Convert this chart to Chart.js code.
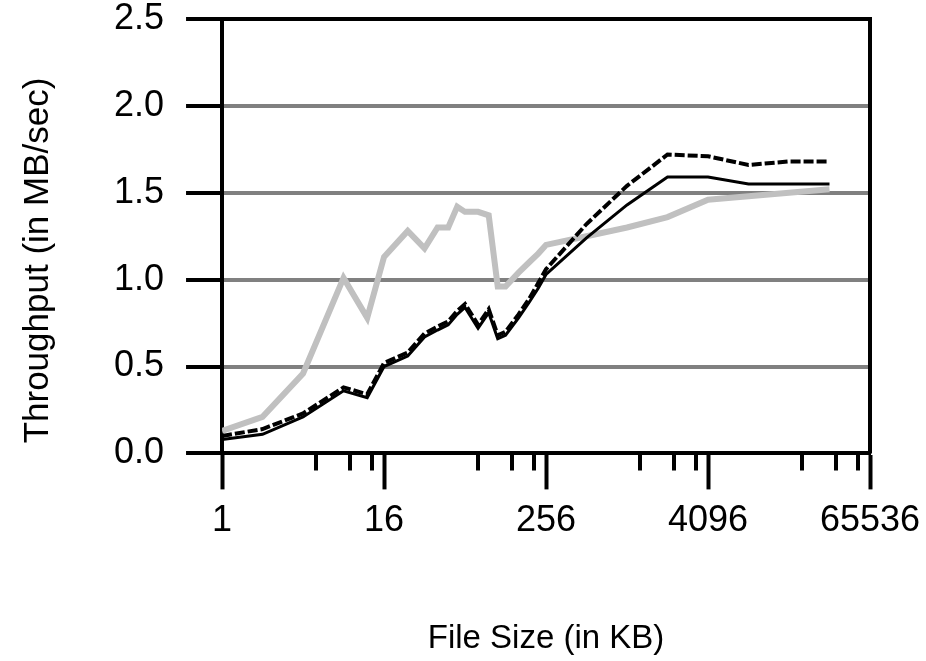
<!DOCTYPE html>
<html>
<head>
<meta charset="utf-8">
<script src="https://cdn.jsdelivr.net/npm/chart.js@4"></script>
<style>
  body { margin: 0; background: #fff; }
  #wrap { width: 926px; height: 661px; }
</style>
</head>
<body>
<div id="wrap"><canvas id="chart"></canvas></div>
<script>
const fileSizes = [1, 2, 4, 8, 12, 16, 24, 32, 40, 48, 56, 64, 80, 96, 112, 128, 160, 192, 224, 256, 512, 1024, 2048, 4096, 8192, 16384, 32768]
const graySeries = [0.13, 0.21, 0.46, 1.01, 0.78, 1.13, 1.28, 1.18, 1.30, 1.30, 1.42, 1.39, 1.39, 1.37, 0.96, 0.96, 1.04, 1.10, 1.15, 1.20, 1.25, 1.30, 1.36, 1.46, 1.48, 1.50, 1.52]
const solidSeries = [0.08, 0.11, 0.21, 0.36, 0.32, 0.50, 0.56, 0.67, 0.71, 0.74, 0.80, 0.84, 0.72, 0.81, 0.66, 0.68, 0.78, 0.87, 0.95, 1.03, 1.24, 1.43, 1.59, 1.59, 1.55, 1.55, 1.55]
const dashedSeries = [0.10, 0.14, 0.23, 0.38, 0.34, 0.52, 0.58, 0.69, 0.73, 0.76, 0.82, 0.86, 0.74, 0.83, 0.68, 0.70, 0.80, 0.89, 0.98, 1.06, 1.32, 1.54, 1.72, 1.71, 1.66, 1.68, 1.68]

const xMajorTicks = [1, 16, 256, 4096, 65536]
const xMinorTicks = [5, 9, 13, 80, 144, 208, 1280, 2304, 3328, 20480, 36864, 53248]
const yTicks = [0, 0.5, 1.0, 1.5, 2.0, 2.5]

const toPoints = (ys) => fileSizes.map((x, i) => ({ x, y: ys[i] }))

const FONT = 'Liberation Sans, Arial, sans-serif'

// minor ticks under the x axis and the right border of the plot
const framePlugin = {
  id: 'frame',
  afterDraw(chart) {
    const { ctx, chartArea } = chart
    const xs = chart.scales.x
    ctx.save()
    ctx.strokeStyle = '#000'
    ctx.lineWidth = 4
    ctx.beginPath()
    for (const v of xMinorTicks) {
      const px = Math.round(xs.getPixelForValue(v))
      ctx.moveTo(px, chartArea.bottom)
      ctx.lineTo(px, chartArea.bottom + 17)
    }
    ctx.moveTo(chartArea.right, chartArea.top - 2)
    ctx.lineTo(chartArea.right, chartArea.bottom)
    ctx.stroke()
    ctx.restore()
  }
}

new Chart(document.getElementById('chart'), {
  type: 'line',
  data: {
    datasets: [
      {
        label: 'dashed',
        data: toPoints(dashedSeries),
        borderColor: '#000',
        borderWidth: 4,
        borderDash: [10, 3],
        pointRadius: 0,
        tension: 0,
        order: 1,
      },
      {
        label: 'solid',
        data: toPoints(solidSeries),
        borderColor: '#000',
        borderWidth: 3,
        pointRadius: 0,
        tension: 0,
        order: 2,
      },
      {
        label: 'gray',
        data: toPoints(graySeries),
        borderColor: '#c0c0c0',
        borderWidth: 6,
        pointRadius: 0,
        tension: 0,
        order: 3,
      },
    ],
  },
  options: {
    responsive: true,
    maintainAspectRatio: false,
    animation: false,
    layout: { padding: { top: 19, right: 56, left: 0, bottom: 0 } },
    plugins: { legend: { display: false }, tooltip: { enabled: false } },
    scales: {
      x: {
        type: 'logarithmic',
        min: 1,
        max: 65536,
        afterBuildTicks: (scale) => { scale.ticks = xMajorTicks.map(value => ({ value })) },
        afterFit: (scale) => { scale.paddingLeft = 0; scale.paddingRight = 0 },
        grid: { drawOnChartArea: false, tickLength: 36, tickWidth: 4, tickColor: '#000' },
        border: { color: '#000', width: 4 },
        ticks: {
          autoSkip: false,
          maxRotation: 0,
          padding: 14,
          color: '#000',
          font: { family: FONT, size: 36, lineHeight: 1 },
          callback: (v) => String(v),
        },
        title: {
          display: true,
          text: 'File Size (in KB)',
          color: '#000',
          font: { family: FONT, size: 33 },
          padding: { top: 66, bottom: 2 },
        },
      },
      y: {
        min: 0,
        max: 2.5,
        afterBuildTicks: (scale) => { scale.ticks = yTicks.map(value => ({ value })) },
        afterFit: (scale) => { scale.paddingTop = 0; scale.paddingBottom = 0 },
        grid: {
          color: (c) => c.tick && c.tick.value === 2.5 ? '#000' : '#808080',
          lineWidth: 4,
          tickLength: 36,
          tickColor: '#000',
          tickWidth: 4,
        },
        border: { color: '#000', width: 4 },
        ticks: {
          padding: 22,
          color: '#000',
          font: { family: FONT, size: 36, lineHeight: 1 },
          callback: (v) => v.toFixed(1),
        },
        title: {
          display: true,
          text: 'Throughput (in MB/sec)     ',
          color: '#000',
          font: { family: FONT, size: 35 },
          padding: { top: 17, bottom: 33 },
        },
      },
    },
  },
  plugins: [framePlugin],
})
</script>
</body>
</html>
